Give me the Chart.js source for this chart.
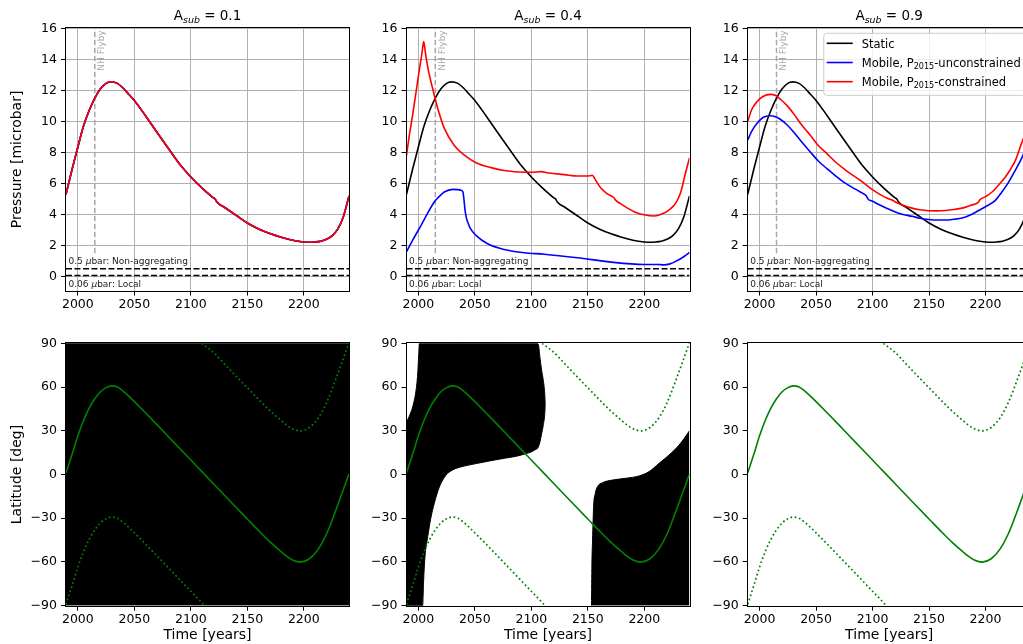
<!DOCTYPE html>
<html>
<head>
<meta charset="utf-8">
<title>Pressure and frost latitude vs time</title>
<script src="https://cdn.jsdelivr.net/npm/chart.js@4.4.1/dist/chart.umd.min.js"></script>
<style>
  html, body { margin: 0; padding: 0; background: #fff; overflow: hidden; }
  body { width: 1023px; height: 644px; position: relative; }
  canvas { position: absolute; }
</style>
</head>
<body>
<canvas id="press01" width="360" height="320" style="left:0px;top:0px"></canvas>
<canvas id="press04" width="340" height="320" style="left:360px;top:0px"></canvas>
<canvas id="press09" width="340" height="320" style="left:700px;top:0px"></canvas>
<canvas id="lat01" width="360" height="324" style="left:0px;top:320px"></canvas>
<canvas id="lat04" width="340" height="324" style="left:360px;top:320px"></canvas>
<canvas id="lat09" width="340" height="324" style="left:700px;top:320px"></canvas>
<script>
// ---------- axes ----------
const timeRange = [1989.5, 2240];
const yearTicks = [2000, 2050, 2100, 2150, 2200];
const pressureRange = [-0.9, 16];
const pressureTicks = [0, 2, 4, 6, 8, 10, 12, 14, 16];
const latitudeRange = [-90, 90];
const latitudeTicks = [-90, -60, -30, 0, 30, 60, 90];
const albedos = ['0.1', '0.4', '0.9'];

// ---------- annotations ----------
const flybyYear = 2015;
const flybyPressureSpan = [1.5, 16];
const thresholdPressures = [0.5, 0.06];
const thresholdValueText = ['0.5 ', '0.06 '];
const thresholdNames = ['bar: Non-aggregating', 'bar: Local'];

// ---------- static-frost pressure (same in every albedo case) ----------
const staticYears = [1989.5, 1995, 2000, 2005, 2010, 2015, 2020, 2025, 2029, 2035, 2040, 2045, 2050, 2060, 2070, 2080, 2090, 2100, 2110, 2120, 2121.5, 2123, 2130, 2140, 2150, 2160, 2170, 2180, 2190, 2200, 2205, 2210, 2215, 2220, 2225, 2230, 2235, 2240];
const staticPressure = [5.3, 6.95, 8.35, 9.7, 10.7, 11.5, 12.1, 12.45, 12.55, 12.45, 12.15, 11.75, 11.35, 10.35, 9.3, 8.27, 7.25, 6.42, 5.7, 5.07, 5.0, 4.8, 4.45, 3.95, 3.45, 3.07, 2.77, 2.53, 2.34, 2.23, 2.21, 2.23, 2.28, 2.4, 2.62, 3.05, 3.85, 5.2];

// ---------- mobile-frost pressure, A_sub = 0.4 ----------
const unc04Years = [1989.5, 1995, 2002.4, 2008, 2014.1, 2017.1, 2023, 2030.4, 2034.8, 2038, 2039.5, 2040.3, 2041.2, 2042.3, 2044, 2046, 2051, 2061.3, 2076, 2093.7, 2111.4, 2140.9, 2170.4, 2199.8, 2211.6, 2217.5, 2222, 2226.4, 2231, 2235.2, 2240];
const unc04Pressure = [1.6, 2.35, 3.3, 4.05, 4.8, 5.06, 5.45, 5.62, 5.6, 5.55, 5.45, 5.0, 4.35, 3.85, 3.45, 3.1, 2.65, 2.11, 1.74, 1.53, 1.44, 1.21, 0.93, 0.78, 0.78, 0.75, 0.8, 0.93, 1.1, 1.29, 1.55];
const con04Years = [1989.5, 1992, 1995, 1998, 2001, 2003, 2004.2, 2004.7, 2005.3, 2006.5, 2008.3, 2010.5, 2012.7, 2017.1, 2023, 2031.8, 2040.7, 2051, 2064.3, 2076, 2093.7, 2100, 2108.5, 2115.8, 2129.1, 2140.9, 2152, 2154, 2155.5, 2157.1, 2161.5, 2167, 2173.3, 2174.8, 2180, 2185.1, 2192, 2199.8, 2208.7, 2217.5, 2222, 2226.4, 2229.5, 2232.3, 2236.7, 2240];
const con04Pressure = [7.8, 9.1, 10.45, 11.9, 13.4, 14.3, 14.95, 15.15, 14.95, 14.3, 13.5, 12.75, 12.1, 10.85, 9.55, 8.45, 7.82, 7.34, 7.02, 6.83, 6.72, 6.72, 6.76, 6.67, 6.57, 6.48, 6.5, 6.53, 6.4, 6.2, 5.7, 5.35, 5.06, 4.91, 4.65, 4.41, 4.15, 3.98, 3.9, 4.09, 4.3, 4.59, 4.95, 5.45, 6.74, 7.65];

// ---------- mobile-frost pressure, A_sub = 0.9 ----------
const unc09Years = [1989.5, 1993, 1997.6, 2003, 2009.4, 2014, 2018.3, 2024, 2030.1, 2037, 2044.9, 2052, 2059.6, 2067, 2074.4, 2082, 2089.2, 2094.5, 2096, 2100, 2106.9, 2113, 2120.2, 2127, 2135, 2142, 2149.7, 2157, 2164.5, 2172, 2179.3, 2187, 2194, 2200, 2208.7, 2214, 2220.5, 2226, 2231.8, 2236, 2240];
const unc09Pressure = [8.8, 9.35, 9.86, 10.25, 10.36, 10.3, 10.14, 9.8, 9.32, 8.7, 8.03, 7.45, 6.96, 6.5, 6.09, 5.75, 5.45, 5.2, 5.0, 4.85, 4.59, 4.38, 4.16, 4.0, 3.88, 3.76, 3.68, 3.64, 3.64, 3.69, 3.77, 3.98, 4.26, 4.5, 4.91, 5.4, 6.09, 6.8, 7.6, 8.3, 9.0];
const con09Years = [1989.5, 1993, 1997.6, 2003, 2009.4, 2014, 2018.3, 2024, 2030.1, 2037, 2044.9, 2052, 2059.6, 2067, 2074.4, 2082, 2089.2, 2098, 2106.9, 2113, 2118.5, 2120.2, 2127, 2135, 2142, 2149.7, 2157, 2164.5, 2172, 2179.3, 2187, 2193.5, 2195, 2200, 2205.8, 2211, 2217.6, 2222, 2226.5, 2231.8, 2236, 2240];
const con09Pressure = [10.0, 10.75, 11.26, 11.6, 11.74, 11.68, 11.43, 11.05, 10.5, 9.8, 9.1, 8.45, 7.92, 7.4, 6.96, 6.55, 6.2, 5.7, 5.28, 5.05, 4.88, 4.8, 4.6, 4.41, 4.3, 4.24, 4.23, 4.26, 4.32, 4.41, 4.6, 4.78, 4.95, 5.15, 5.45, 5.85, 6.42, 6.9, 7.49, 8.57, 9.35, 10.2];

// ---------- sub-solar latitude and the ±90° day/night limits ----------
const subsolarYears = [1989.5, 1995, 2000, 2005, 2010, 2015, 2020, 2025, 2030, 2035, 2040, 2045, 2050, 2060, 2070, 2080, 2090, 2100, 2110, 2120, 2130, 2140, 2150, 2160, 2170, 2180, 2185, 2190, 2197, 2205, 2213, 2220, 2230, 2240];
const subsolarLat = [1, 14, 26.5, 37, 45.5, 52, 56.8, 59.6, 60.8, 60, 57.2, 53.8, 50, 42.2, 34.2, 26.1, 18, 9.9, 1.8, -6.3, -14.4, -22.5, -30.5, -38.5, -46.2, -53, -56.2, -58.6, -60.1, -57.8, -51, -41, -21, 0.5];
const northLimitYears = [2109.5, 2120, 2130, 2140, 2150, 2160, 2170, 2180, 2185, 2190, 2197, 2205, 2213, 2220, 2230, 2240];
const northLimitLat = [90, 83.7, 75.6, 67.5, 59.5, 51.5, 43.8, 37, 33.8, 31.4, 29.9, 32.2, 39, 49, 69, 90.5];
const southLimitYears = [1989.5, 1995, 2000, 2005, 2010, 2015, 2020, 2025, 2030, 2035, 2040, 2045, 2050, 2060, 2070, 2080, 2090, 2100, 2110, 2112];
const southLimitLat = [-89, -76, -63.5, -53, -44.5, -38, -33.2, -30.4, -29.2, -30, -32.8, -36.2, -40, -47.8, -55.8, -63.9, -72, -80.1, -88.2, -90];

// ---------- frost-covered latitude bands ----------
const frost01Years = [1989.5, 2240];
const frost01Top = [90, 90];

const frostA04Years = [1989.5, 1992, 1995, 1998, 1999.4, 2000.3, 2000.9, 2003.8, 2004.7, 2005.9, 2008.3, 2011, 2014.1, 2017, 2020, 2023, 2025.9, 2030, 2033.3, 2040.7, 2052.5, 2064.3, 2076, 2087.8, 2096, 2100, 2103, 2105.5, 2106.5, 2107.5, 2109, 2110.5, 2111.8, 2112.3];
const frostA04Top = [36, 40, 46.5, 58, 69, 82, 90, 90, 90, 90, 90, 90, 90, 90, 90, 90, 90, 90, 90, 90, 90, 90, 90, 90, 90, 90, 90, 90, 88, 81, 72, 65, 56, 48];
const frostA04Bottom = [-90, -90, -90, -90, -90, -90, -90, -90, -72, -56, -42.6, -30, -19.8, -12, -6, -2, 0.8, 3, 4.2, 5.8, 7.7, 9.5, 11.1, 12.7, 14.5, 15.5, 16.8, 18, 19.5, 22, 27.5, 33.5, 41, 48];

const frostB04Years = [2153.2, 2153.6, 2154.2, 2155.1, 2156.6, 2158.6, 2163, 2171.9, 2183.6, 2195.4, 2204.2, 2213.1, 2221.9, 2230.8, 2240];
const frostB04Top = [-90, -62, -45, -22, -13, -8.3, -5.6, -3.8, -2.6, -1, 2, 7.7, 13.4, 20.2, 30];

// ---------- helpers ----------
const FONT = '"DejaVu Sans", "Liberation Sans", sans-serif';
Chart.defaults.font.family = FONT;
Chart.defaults.color = '#000';

const pts = (xs, ys) => xs.map((x, i) => ({ x, y: ys[i] }));
const fmtTick = v => (v < 0 ? '\u2212' + Math.abs(v) : String(v));

function partFont(p, size) {
  const s = p.sub ? size * 0.7 : size;
  return (p.it ? 'italic ' : '') + s + 'px ' + FONT;
}
function richWidth(ctx, parts, size) {
  let w = 0;
  parts.forEach(p => { ctx.font = partFont(p, size); w += ctx.measureText(p.t).width; });
  return w;
}
function drawRich(ctx, parts, x, baseline, size, align) {
  const w = richWidth(ctx, parts, size);
  let cx = align === 'center' ? x - w / 2 : x;
  ctx.textAlign = 'left';
  ctx.textBaseline = 'alphabetic';
  parts.forEach(p => {
    ctx.font = partFont(p, size);
    ctx.fillText(p.t, cx, baseline + (p.sub ? size * 0.22 : 0));
    cx += ctx.measureText(p.t).width;
  });
  return w;
}

const legendEntries = [
  { color: '#000000', parts: [{ t: 'Static' }] },
  { color: '#0000ff', parts: [{ t: 'Mobile, P' }, { t: '2015', sub: true }, { t: '-unconstrained' }] },
  { color: '#ff0000', parts: [{ t: 'Mobile, P' }, { t: '2015', sub: true }, { t: '-constrained' }] }
];

// frame, titles, labels and legend drawn on top of the datasets
function decorPlugin(spec) {
  return {
    id: 'decor',
    afterDatasetsDraw(chart) {
      const { ctx, chartArea: a, scales: { x, y } } = chart;
      ctx.save();
      // axes box
      ctx.strokeStyle = '#000';
      ctx.lineWidth = 1;
      const L = Math.round(a.left) - 0.5, T = Math.round(a.top) - 0.5;
      const R = Math.round(a.right) + 0.5, B = Math.round(a.bottom) + 0.5;
      ctx.strokeRect(L, T, R - L, B - T);

      ctx.fillStyle = '#000';
      if (spec.title) {
        drawRich(ctx, spec.title, (a.left + a.right) / 2, a.top - 8, 13.5, 'center');
      }
      if (spec.pressure) {
        // threshold captions
        ctx.fillStyle = '#222';
        const p0 = y.getPixelForValue(thresholdPressures[0]);
        const p1 = y.getPixelForValue(thresholdPressures[1]);
        drawRich(ctx, [{ t: thresholdValueText[0] }, { t: '\u03bc', it: true }, { t: thresholdNames[0] }], a.left + 2.5, p0 - 4.5, 9, 'left');
        drawRich(ctx, [{ t: thresholdValueText[1] }, { t: '\u03bc', it: true }, { t: thresholdNames[1] }], a.left + 2.5, p1 + 11.5, 9, 'left');
        // flyby caption
        const fx = x.getPixelForValue(flybyYear);
        ctx.save();
        ctx.translate(fx + 7, a.top + 2);
        ctx.rotate(-Math.PI / 2);
        ctx.fillStyle = '#a8a8a8';
        ctx.font = '9px ' + FONT;
        ctx.textAlign = 'right';
        ctx.textBaseline = 'middle';
        ctx.fillText('NH Flyby', 0, 0);
        ctx.restore();
      }
      if (spec.legend) {
        const size = 11.5;
        let tw = 0;
        legendEntries.forEach(e => { tw = Math.max(tw, richWidth(ctx, e.parts, size)); });
        const right = a.right - 5;
        const left = right - (38 + tw + 5);
        const top = a.top + 5;
        const h = 62;
        ctx.beginPath();
        ctx.roundRect(left, top, right - left, h, 3);
        ctx.fillStyle = 'rgba(255,255,255,0.8)';
        ctx.fill();
        ctx.strokeStyle = '#cccccc';
        ctx.lineWidth = 1;
        ctx.stroke();
        legendEntries.forEach((e, i) => {
          const cy = top + 10 + i * 19.2;
          ctx.strokeStyle = e.color;
          ctx.lineWidth = 1.6;
          ctx.beginPath();
          ctx.moveTo(left + 3, cy);
          ctx.lineTo(left + 29, cy);
          ctx.stroke();
          ctx.fillStyle = '#000';
          drawRich(ctx, e.parts, left + 38, cy + size * 0.37, size, 'left');
        });
      }
      ctx.restore();
    }
  };
}

function makeChart(id, cfg) {
  const tickFont = { size: 12.5 };
  const gridOpts = {
    display: true,
    drawOnChartArea: cfg.grid,
    color: '#b0b0b0',
    lineWidth: 1,
    tickColor: '#000',
    tickLength: 5,
    tickWidth: 1
  };
  return new Chart(document.getElementById(id), {
    type: 'line',
    data: { datasets: cfg.datasets },
    options: {
      responsive: false,
      animation: false,
      events: [],
      layout: { padding: { left: 0, right: cfg.padRight, top: cfg.padTop, bottom: 0 }, autoPadding: false },
      plugins: { legend: { display: false }, tooltip: { enabled: false }, title: { display: false } },
      elements: {
        point: { radius: 0 },
        line: { cubicInterpolationMode: 'monotone', borderCapStyle: 'butt', borderJoinStyle: 'round' }
      },
      scales: {
        x: {
          type: 'linear',
          min: timeRange[0],
          max: timeRange[1],
          afterBuildTicks: s => { s.ticks = yearTicks.map(v => ({ value: v })); },
          afterFit: s => { s.height = cfg.xHeight; },
          ticks: { callback: fmtTick, font: tickFont, padding: 2, maxRotation: 0, color: '#000' },
          grid: gridOpts,
          border: { display: false },
          title: cfg.xTitle
            ? { display: true, text: cfg.xTitle, font: { size: 14 }, color: '#000', padding: { top: 0, bottom: 0.6 } }
            : { display: false }
        },
        y: {
          type: 'linear',
          min: cfg.yRange[0],
          max: cfg.yRange[1],
          afterBuildTicks: s => { s.ticks = cfg.yTicks.map(v => ({ value: v })); },
          afterFit: s => { s.width = cfg.yWidth; },
          ticks: { callback: fmtTick, font: tickFont, padding: 4, color: '#000' },
          grid: gridOpts,
          border: { display: false },
          title: cfg.yTitle
            ? { display: true, text: cfg.yTitle, font: { size: 14 }, color: '#000', padding: { top: 8.6, bottom: 0 } }
            : { display: false }
        }
      }
    },
    plugins: [decorPlugin(cfg.decor)]
  });
}

// ---------- dataset builders ----------
const curve = (data, color, order) => ({
  data, borderColor: color, borderWidth: 1.6, fill: false, order
});
function pressureSets(unc, con) {
  return [
    curve(pts(staticYears, staticPressure), '#000000', 3),
    curve(unc, '#0000ff', 2),
    curve(con, '#ff0000', 1),
    { data: pts(timeRange, [thresholdPressures[0], thresholdPressures[0]]), borderColor: '#000', borderWidth: 1.5, borderDash: [6, 2.5], fill: false, order: 4, cubicInterpolationMode: 'default', tension: 0 },
    { data: pts(timeRange, [thresholdPressures[1], thresholdPressures[1]]), borderColor: '#000', borderWidth: 1.5, borderDash: [6, 2.5], fill: false, order: 4, cubicInterpolationMode: 'default', tension: 0 },
    { data: pts([flybyYear, flybyYear], flybyPressureSpan), borderColor: '#a8a8a8', borderWidth: 1.5, borderDash: [5.5, 2.5], fill: false, order: 5, cubicInterpolationMode: 'default', tension: 0 }
  ];
}
function latitudeSets(frost) {
  return frost.concat([
    { data: pts(subsolarYears, subsolarLat), borderColor: '#008000', borderWidth: 1.6, fill: false, order: 1 },
    { data: pts(northLimitYears, northLimitLat), borderColor: '#008000', borderWidth: 1.7, borderDash: [1.7, 2.6], fill: false, order: 2 },
    { data: pts(southLimitYears, southLimitLat), borderColor: '#008000', borderWidth: 1.7, borderDash: [1.7, 2.6], fill: false, order: 2 }
  ]);
}
const frostEdge = (data, fill, order) => ({
  data, borderColor: '#000', borderWidth: 1, backgroundColor: '#000', fill, order
});

const titleParts = a => [{ t: 'A' }, { t: 'sub', sub: true, it: true }, { t: ' = ' + a }];

const cols = [
  { padRight: 11, yWidth: 66 },
  { padRight: 10.5, yWidth: 46.5 },
  { padRight: 9.3, yWidth: 47.7 }
];

// ---------- top row: surface pressure ----------
const staticPts = pts(staticYears, staticPressure);
const pressureSeries = [
  [staticPts, staticPts],
  [pts(unc04Years, unc04Pressure), pts(con04Years, con04Pressure)],
  [pts(unc09Years, unc09Pressure), pts(con09Years, con09Pressure)]
];
['press01', 'press04', 'press09'].forEach((id, i) => {
  makeChart(id, {
    ...cols[i],
    padTop: 28.3,
    xHeight: 29.5,
    yRange: pressureRange,
    yTicks: pressureTicks,
    grid: true,
    yTitle: i === 0 ? 'Pressure [microbar]' : null,
    xTitle: null,
    datasets: pressureSets(pressureSeries[i][0], pressureSeries[i][1]),
    decor: { title: titleParts(albedos[i]), pressure: true, legend: i === 2 }
  });
});

// ---------- bottom row: frost latitude ----------
const frostSets = [
  [frostEdge(pts(frost01Years, frost01Top), 'start', 10)],
  [
    frostEdge(pts(frostA04Years, frostA04Bottom), false, 10),
    frostEdge(pts(frostA04Years, frostA04Top), '-1', 10),
    frostEdge(pts(frostB04Years, frostB04Top), 'start', 10)
  ],
  []
];
['lat01', 'lat04', 'lat09'].forEach((id, i) => {
  makeChart(id, {
    ...cols[i],
    padTop: 23.3,
    xHeight: 38.3,
    yRange: latitudeRange,
    yTicks: latitudeTicks,
    grid: false,
    yTitle: i === 0 ? 'Latitude [deg]' : null,
    xTitle: 'Time [years]',
    datasets: latitudeSets(frostSets[i]),
    decor: {}
  });
});
</script>
</body>
</html>
